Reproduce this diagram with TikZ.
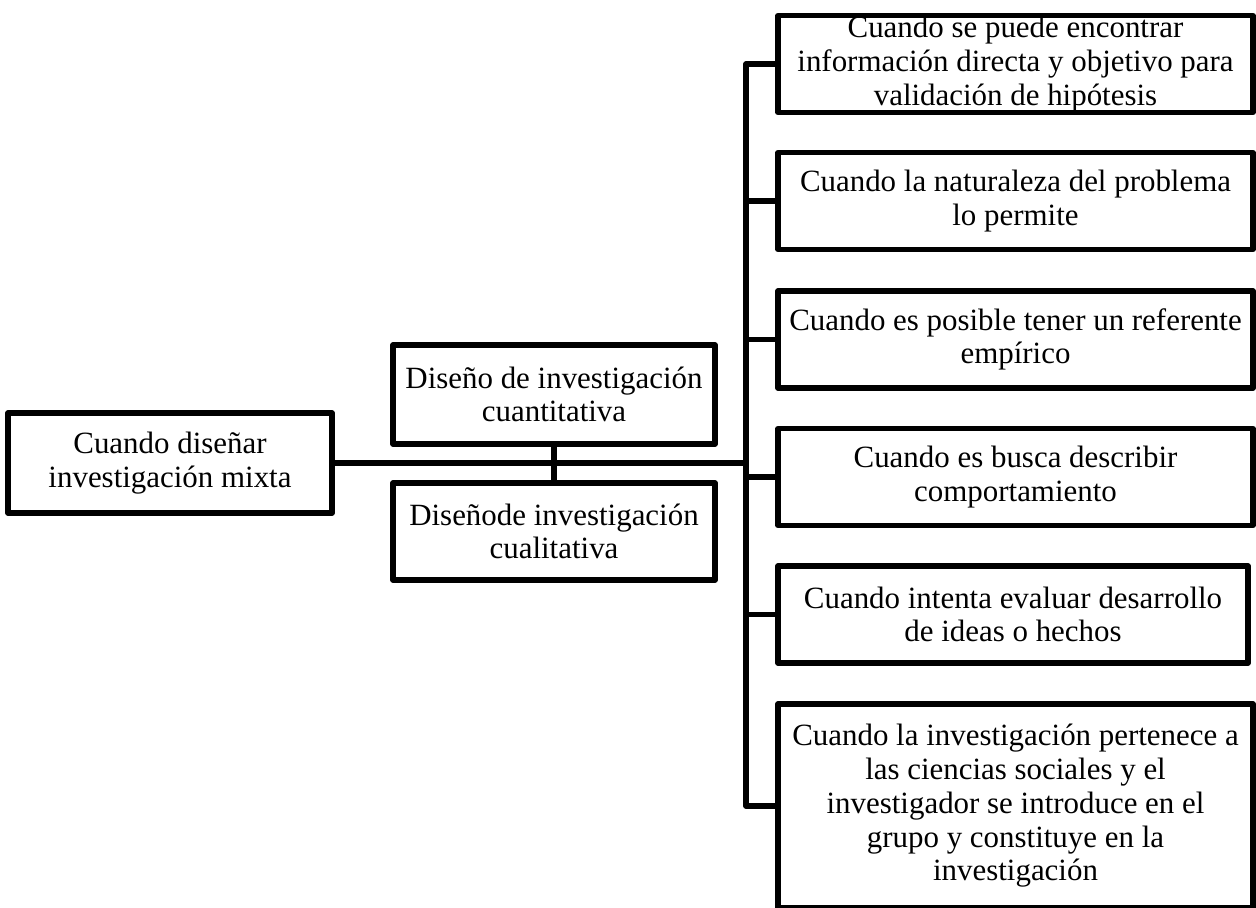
\documentclass[tikz,border=0pt]{standalone}
\usepackage{fontspec}
\setmainfont{Liberation Serif}
\begin{document}
\begin{tikzpicture}[x=0.02cm, y=-0.02cm, line width=3pt, line join=round, line cap=round,
	font=\fontsize{17.6}{19.2}\selectfont,
	caja/.style={draw, rectangle, inner sep=0pt, align=center, minimum height=1.94cm}]
	\useasboundingbox (0,0) rectangle (1256,907);

	\node[caja, minimum width=6.48cm, minimum height=2cm] (mixta) at (170,463) {Cuando diseñar\\investigación mixta};
	\node[caja, minimum width=6.44cm, minimum height=1.98cm] (cuanti) at (554,394.5) {Diseño de investigación\\cuantitativa};
	\node[caja, minimum width=6.44cm] (cuali) at (554,531.5) {Diseñode investigación\\cualitativa};

	\path (746,463) coordinate (T);

	\foreach \n/\x/\y/\w/\t in {
		1/1015.5/64/9.5/{Cuando se puede encontrar\\información directa y objetivo para\\validación de hipótesis},
		2/1015.5/201/9.5/{Cuando la naturaleza del problema\\lo permite},
		3/1015.5/339.5/9.5/{Cuando es posible tener un referente\\empírico},
		4/1015.5/477/9.5/{Cuando es busca describir\\comportamiento},
		5/1013/614.5/9.4/{Cuando intenta evaluar desarrollo\\de ideas o hechos}}
	\node[caja, minimum width=\w cm] (r\n) at (\x,\y) {\t};
	\node[caja, minimum width=9.5cm, minimum height=4.08cm] (r6) at (1015.5,806)
		{Cuando la investigación pertenece a\\las ciencias sociales y el\\investigador se introduce en el\\grupo y constituye en la\\investigación};

	\draw (mixta) -- (T) (cuanti) -- (cuali);
	\draw (r1.west) -| (T) |- (r6.west);
	\foreach \n in {2,...,5}
	\draw (r\n.west) -- (r\n.west -| T);
\end{tikzpicture}
\end{document}
